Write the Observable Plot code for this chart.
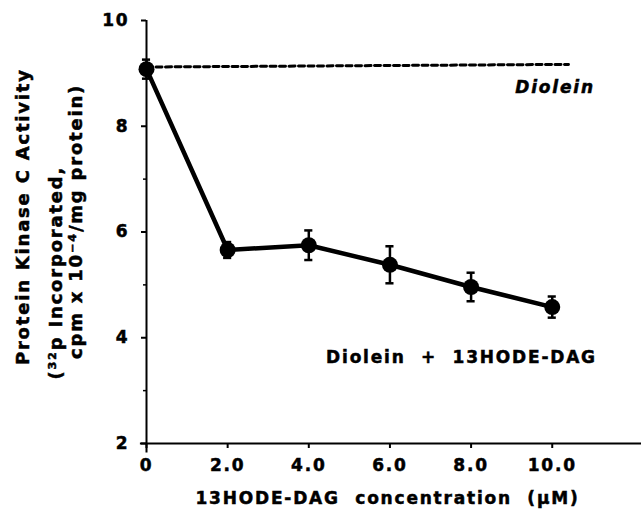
<!DOCTYPE html>
<html><head><meta charset="utf-8">
<script src="https://cdn.jsdelivr.net/npm/d3@7"></script>
<script src="https://cdn.jsdelivr.net/npm/@observablehq/plot@0.6"></script>
<style>body{margin:0;background:#fff} svg text{stroke:#000;stroke-width:0.5px}</style>
</head><body><div id="chart"></div>
<script>
const concentration = [0, 2, 4, 6, 8, 10];
const activity = [9.08, 5.66, 5.75, 5.38, 4.96, 4.58];
const activityError = [0.18, 0.15, 0.28, 0.35, 0.27, 0.2];
const dioleinX = [0, 10.4];
const dioleinY = [9.12, 9.17];
const xTicks = [0, 2, 4, 6, 8, 10];
const xTickLabels = ["0", "2.0", "4.0", "6.0", "8.0", "10.0"];
const yTicks = [2, 4, 6, 8, 10];
const yMinorTicks = [3, 5, 7, 9];
const yTitleLines = ["Protein Kinase C Activity", "(³²p Incorporated,", "cpm x 10⁻⁴/mg protein)"];
const xTitle = "13HODE-DAG  concentration  (µM)";
const seriesLabels = ["Diolein", "Diolein  +  13HODE-DAG"];

const combo = concentration.map((x, i) => ({x, y: activity[i], lo: activity[i] - activityError[i], hi: activity[i] + activityError[i]}));
const diolein = dioleinX.map((x, i) => ({x, y: dioleinY[i]}));

const FS = 17;
const chart = Plot.plot({
  width: 641, height: 509,
  marginLeft: 146, marginRight: 0, marginTop: 20, marginBottom: 66,
  x: {domain: [0, 12.2]},
  y: {domain: [2, 10]},
  style: {fontFamily: "DejaVu Sans", fontWeight: "bold", fontSize: FS + "px", letterSpacing: "1.8px", whiteSpace: "pre", color: "#000", background: "#fff", overflow: "visible"},
  marks: [
    Plot.ruleY([2], {x1: -0.15, x2: 12.2, strokeWidth: 2, stroke: "#000"}),
    Plot.ruleX([0], {y1: 1.82, y2: 10, strokeWidth: 2, stroke: "#000"}),
    Plot.axisY({ticks: yTicks, tickSize: 5, tickPadding: 12, strokeWidth: 2, fontSize: FS, label: null}),
    Plot.axisY({ticks: yMinorTicks, tickSize: 3, strokeWidth: 1.5, text: null, label: null}),
    Plot.axisX({ticks: xTicks, tickFormat: d => xTickLabels[xTicks.indexOf(d)], tickSize: 5, tickPadding: 10, strokeWidth: 2, fontSize: FS, label: null}),
    Plot.line(diolein, {x: "x", y: "y", stroke: "#000", strokeWidth: 3, strokeDasharray: "6,3.5"}),
    Plot.line(combo, {x: "x", y: "y", stroke: "#000", strokeWidth: 4.5}),
    Plot.ruleX(combo, {x: "x", y1: "lo", y2: "hi", stroke: "#000", strokeWidth: 2.5}),
    Plot.ruleY(combo, {y: "hi", x1: d => d.x - 0.1, x2: d => d.x + 0.1, stroke: "#000", strokeWidth: 2.5}),
    Plot.ruleY(combo, {y: "lo", x1: d => d.x - 0.1, x2: d => d.x + 0.1, stroke: "#000", strokeWidth: 2.5}),
    Plot.dot(combo, {x: "x", y: "y", r: 8, fill: "#000", stroke: null}),
    Plot.text([seriesLabels[0]], {x: 11.05, y: 8.74, text: d => d, textAnchor: "end", fontStyle: "italic", fontSize: 17}),
    Plot.text([seriesLabels[1]], {x: 11.1, y: 3.62, text: d => d, textAnchor: "end", fontSize: 17}),
    Plot.text([xTitle], {x: 5.94, y: 0.96, text: d => d, fontSize: 17}),
    Plot.text([yTitleLines[0]], {x: -3.05, y: 6.29, text: d => d, rotate: -90, fontSize: 18}),
    Plot.text([yTitleLines[1]], {x: -2.22, y: 5.23, text: d => d, rotate: -90, fontSize: 18}),
    Plot.text([yTitleLines[2]], {x: -1.72, y: 6.20, text: d => d, rotate: -90, fontSize: 18})
  ]
});
document.getElementById("chart").appendChild(chart);
</script>
</body></html>
